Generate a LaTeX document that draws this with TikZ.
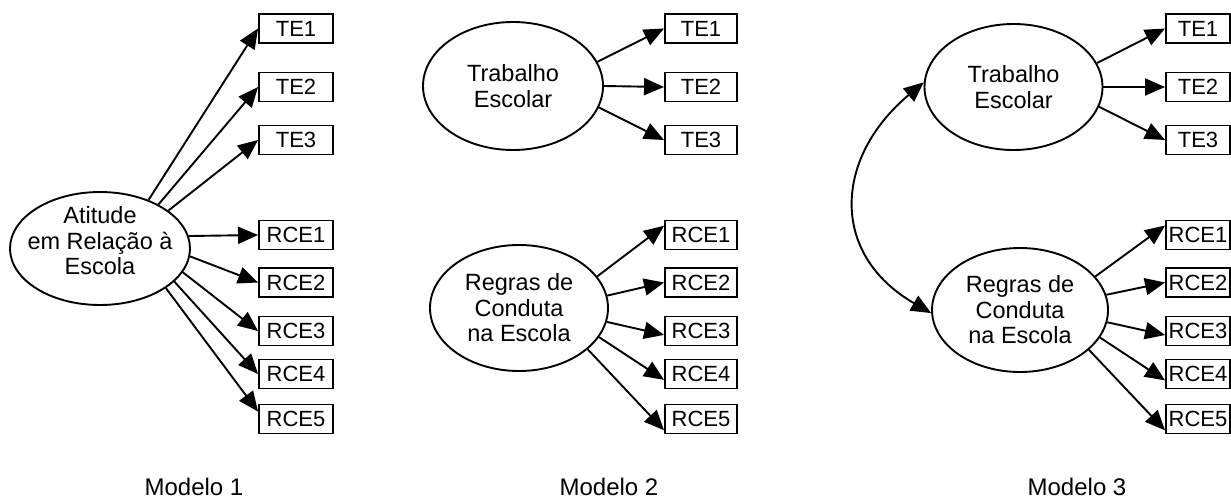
\documentclass[tikz,border=0pt]{standalone}
\usepackage{fontspec}
\setmainfont{Liberation Sans}
\usetikzlibrary{arrows.meta,shapes.geometric}

\begin{document}
\begin{tikzpicture}[x=1pt,y=1pt,
    latent/.style={ellipse,draw,line width=1.9pt,inner sep=0pt,minimum width=178pt,minimum height=126pt},
    obs/.style={rectangle,draw,line width=1.9pt,inner sep=0pt,minimum width=74pt,minimum height=29pt,font=\fontsize{22}{24}\selectfont},
    lbl/.style={align=center,inner sep=0pt,font=\fontsize{23.5}{25.5}\selectfont},
    title/.style={anchor=base,inner sep=0pt,font=\fontsize{24}{26}\selectfont},
    path/.style={line width=1.9pt,-{Triangle[length=20pt,width=17pt]}},
    cov/.style={line width=1.9pt,{Triangle[length=20pt,width=17pt]}-{Triangle[length=20pt,width=17pt]}}]
    \useasboundingbox (0,0) rectangle (1231,499);

    % Modelo 1
    \node[latent,minimum width=180pt,minimum height=113pt] (m1ati) at (100,250.5) {};
    \node[lbl] (m1atit) at (100,258) {Atitude\\em Relação à\\Escola};
    \node[obs] (m1te1) at (296,470.5) {TE1};
    \node[obs] (m1te2) at (296,412) {TE2};
    \node[obs] (m1te3) at (296,359) {TE3};
    \node[obs] (m1rce1) at (296,264) {RCE1};
    \node[obs] (m1rce2) at (296,216.5) {RCE2};
    \node[obs] (m1rce3) at (296,168) {RCE3};
    \node[obs] (m1rce4) at (296,125) {RCE4};
    \node[obs] (m1rce5) at (296,80) {RCE5};
    \draw[path] (m1ati.45) -- (m1te1.west);
    \draw[path] (m1ati.37) -- (m1te2.west);
    \draw[path] (m1ati.29) -- (m1te3.west);
    \draw[path] (m1ati.8) -- (m1rce1.west);
    \draw[path] (m1ati.-5) -- (m1rce2.west);
    \draw[path] (m1ati.-16) -- (m1rce3.west);
    \draw[path] (m1ati.-24) -- (m1rce4.west);
    \draw[path] (m1ati.-31) -- (m1rce5.169);
    \node[title] (m1tit) at (194,4) {Modelo 1};

    % Modelo 2
    \node[latent,minimum width=180pt,minimum height=128pt] (m2te) at (513,413) {};
    \node[lbl] (m2tet) at (m2te) {Trabalho\\Escolar};
    \node[latent] (m2rce) at (519,191) {};
    \node[lbl] (m2rcet) at (m2rce) {Regras de\\Conduta\\na Escola};
    \node[obs,minimum width=72pt] (m2te1) at (701,470.5) {TE1};
    \node[obs,minimum width=72pt] (m2te2) at (701,412) {TE2};
    \node[obs,minimum width=72pt] (m2te3) at (701,359) {TE3};
    \node[obs,minimum width=72pt] (m2rce1) at (701,264) {RCE1};
    \node[obs,minimum width=72pt] (m2rce2) at (701,216.5) {RCE2};
    \node[obs,minimum width=72pt] (m2rce3) at (701,168) {RCE3};
    \node[obs,minimum width=72pt] (m2rce4) at (701,125) {RCE4};
    \node[obs,minimum width=72pt] (m2rce5) at (701,80) {RCE5};
    \draw[path] (m2te.16) -- (m2te1.west);
    \draw[path] (m2te.0) -- (m2te2.west);
    \draw[path] (m2te.-14) -- (m2te3.west);
    \draw[path] (m2rce.22) -- (m2rce1.166);
    \draw[path] (m2rce.8) -- (m2rce2.west);
    \draw[path] (m2rce.-9) -- (m2rce3.186);
    \draw[path] (m2rce.-20) -- (m2rce4.189);
    \draw[path] (m2rce.-31) -- (m2rce5.197);
    \node[title] (m2tit) at (609,4) {Modelo 2};

    % Modelo 3
    \node[latent] (m3te) at (1013.5,412) {};
    \node[lbl] (m3tet) at (m3te) {Trabalho\\Escolar};
    \node[latent,minimum width=176pt,minimum height=124pt] (m3rce) at (1020,189) {};
    \node[lbl] (m3rcet) at (m3rce) {Regras de\\Conduta\\na Escola};
    \node[obs,minimum width=64pt] (m3te1) at (1198,470.5) {TE1};
    \node[obs,minimum width=64pt] (m3te2) at (1198,412) {TE2};
    \node[obs,minimum width=64pt] (m3te3) at (1198,359) {TE3};
    \node[obs,minimum width=64pt] (m3rce1) at (1198,264) {RCE1};
    \node[obs,minimum width=64pt] (m3rce2) at (1198,216.5) {RCE2};
    \node[obs,minimum width=64pt] (m3rce3) at (1198,168) {RCE3};
    \node[obs,minimum width=64pt] (m3rce4) at (1198,125) {RCE4};
    \node[obs,minimum width=64pt] (m3rce5) at (1198,80) {RCE5};
    \draw[path] (m3te.16) -- (m3te1.west);
    \draw[path] (m3te.0) -- (m3te2.west);
    \draw[path] (m3te.-13) -- (m3te3.west);
    \draw[path] (m3rce.24) -- (m3rce1.164);
    \draw[path] (m3rce.10) -- (m3rce2.west);
    \draw[path] (m3rce.-8) -- (m3rce3.187);
    \draw[path] (m3rce.-19) -- (m3rce4.191);
    \draw[path] (m3rce.-30) -- (m3rce5.199);
    \draw[cov] (m3te.177) to[out=220,in=150,looseness=1.3] (m3rce.182);
    \node[title] (m3tit) at (1077,4) {Modelo 3};
\end{tikzpicture}
\end{document}
